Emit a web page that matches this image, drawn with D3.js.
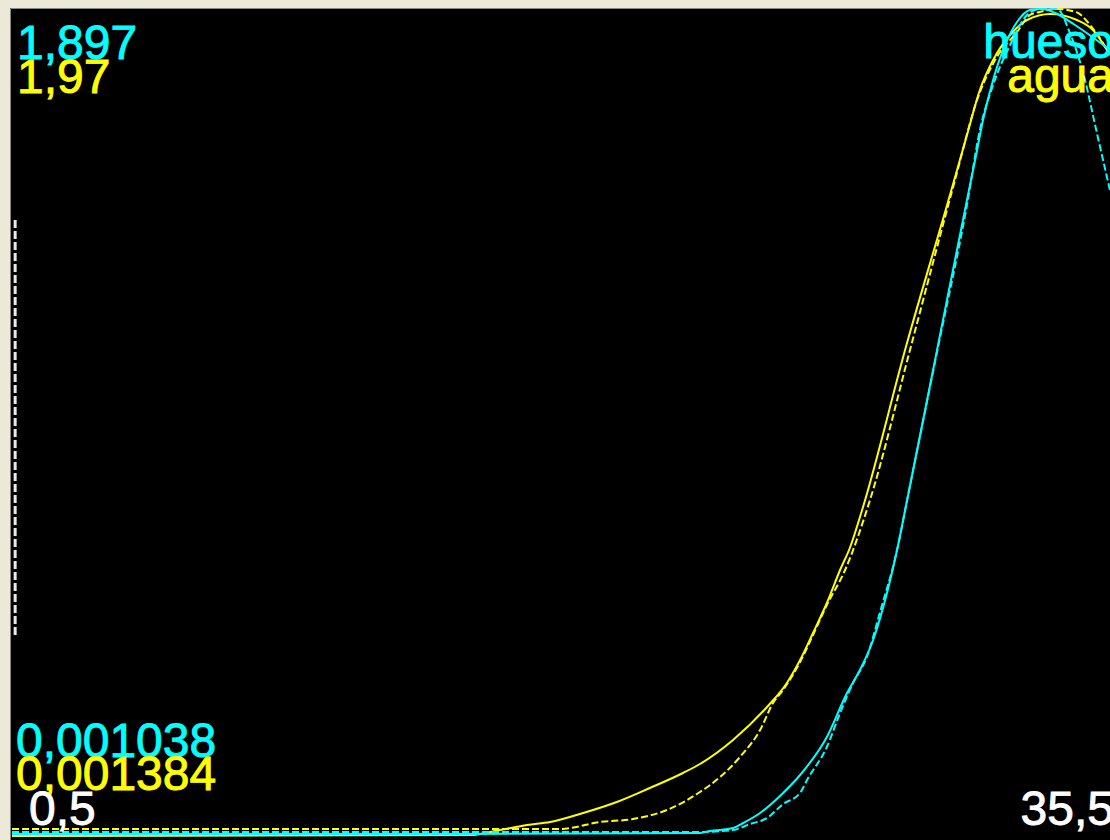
<!DOCTYPE html>
<html>
<head>
<meta charset="utf-8">
<script src="https://cdn.jsdelivr.net/npm/d3@7"></script>
<style>
  html, body { margin: 0; padding: 0; background: #ECE9D8; overflow: hidden; }
  svg { display: block; }
  text { font-family: "Liberation Sans", Arial, sans-serif; font-size: 48px; }
</style>
</head>
<body>
<script>
// Position along the profile (x) and the two pairs of curves.
const huesoX = [0.50, 12.82, 22.35, 22.67, 23.40, 23.72, 24.26, 24.99, 25.53, 26.38, 27.02, 27.43, 27.85, 28.29, 28.61, 28.93, 29.88, 30.83, 31.09, 31.34, 31.66, 32.04, 32.42, 32.83, 33.21, 33.63, 34.26, 35.37];
const huesoY = [0.001038, 0.001038, 0.00334, 0.00793, 0.0148, 0.0263, 0.0493, 0.0953, 0.1366, 0.2240, 0.3251, 0.3779, 0.4469, 0.5549, 0.6537, 0.7686, 1.1133, 1.4581, 1.5500, 1.6419, 1.7338, 1.8143, 1.8671, 1.8947, 1.897, 1.8878, 1.8602, 1.8028];

const huesoRefX = [0.50, 22.35, 23.40, 23.94, 24.48, 24.99, 25.53, 25.75, 26.38, 26.80, 27.21, 27.65, 28.07, 28.61, 28.93, 29.88, 30.83, 31.24, 31.66, 32.20, 32.74, 33.15, 33.69, 34.10, 34.58, 34.90, 35.37];
const huesoRefY = [0.00563, 0.00563, 0.0102, 0.0240, 0.0378, 0.0700, 0.0953, 0.1251, 0.2010, 0.2791, 0.3481, 0.4078, 0.5112, 0.6537, 0.7686, 1.1087, 1.4466, 1.6189, 1.7224, 1.8143, 1.8832, 1.897, 1.897, 1.8418, 1.7338, 1.6304, 1.4810];

const aguaX = [0.50, 15.05, 16.00, 16.86, 17.59, 18.64, 19.71, 20.76, 21.81, 22.35, 23.40, 24.48, 25.11, 25.53, 25.94, 26.38, 26.80, 27.11, 27.50, 28.89, 30.29, 30.83, 31.24, 31.66, 32.20, 32.74, 33.47, 34.32, 34.83, 35.37];
const aguaY = [0.001384, 0.003764, 0.015667, 0.027569, 0.034710, 0.056134, 0.082319, 0.115645, 0.151351, 0.172775, 0.229905, 0.308459, 0.365590, 0.420340, 0.484611, 0.556024, 0.634578, 0.686948, 0.777404, 1.165414, 1.527240, 1.670065, 1.777185, 1.848598, 1.908108, 1.943815, 1.958097, 1.943815, 1.920011, 1.860500];

const aguaRefX = [0.50, 17.90, 19.18, 20.22, 21.30, 22.35, 22.99, 23.62, 24.26, 24.67, 24.99, 25.53, 25.94, 26.38, 26.96, 27.75, 29.02, 30.45, 31.15, 31.78, 32.42, 32.83, 33.15, 33.69, 34.32, 34.74, 35.15, 35.37];
const aguaRefY = [0.018047, 0.018047, 0.034710, 0.041851, 0.063275, 0.106123, 0.141829, 0.189438, 0.253710, 0.317981, 0.348927, 0.415579, 0.479850, 0.551263, 0.634578, 0.801208, 1.158273, 1.562946, 1.753380, 1.855739, 1.915250, 1.955717, 1.963, 1.970, 1.962, 1.931913, 1.889065, 1.860500];

const xDomain = [0.5, 35.5];
const legendLabels = ["hueso", "agua"];
const seriesColors = ["#00FFFF", "#FFFF00"];

// Cursor marker drawn as a dotted vertical line (in hueso units).
const cursorX = 0.6;
const cursorSpan = [0.4515, 1.4121];

const W = 1110, H = 840;
const plot = { left: 12, top: 10, right: 1114, bottom: 840 };

d3.formatDefaultLocale({ decimal: ",", thousands: ".", grouping: [3], currency: ["", " €"] });
const fmt = d3.format("~g");

const svg = d3.select("body").append("svg").attr("width", W).attr("height", H);

// Window frame and black plotting surface
svg.append("rect").attr("width", W).attr("height", H).attr("fill", "#ECE9D8");
svg.append("rect").attr("x", 10).attr("y", 8).attr("width", W).attr("height", H).attr("fill", "#000");
svg.append("path").attr("d", `M10.5,${H} V8.5 H${W}`).attr("fill", "none").attr("stroke", "#8a887c").attr("stroke-width", 1);

const x = d3.scaleLinear().domain(xDomain).range([plot.left, plot.right]);

const huesoExt = d3.extent(huesoY.concat(huesoRefY));
const aguaExt = d3.extent(aguaY.concat(aguaRefY));
const yHueso = d3.scaleLinear().domain(huesoExt).range([834, 9]);
const yAgua = d3.scaleLinear().domain(aguaExt).range([836, 9]);

const zip = (xs, ys) => xs.map((v, i) => [v, ys[i]]);

function drawCurve(xs, ys, yScale, color, dashed) {
  const line = d3.line().x(d => x(d[0])).y(d => yScale(d[1])).curve(d3.curveMonotoneX);
  svg.append("path")
    .datum(zip(xs, ys))
    .attr("d", line)
    .attr("fill", "none")
    .attr("stroke", color)
    .attr("stroke-width", 2)
    .attr("stroke-dasharray", dashed ? "7,3" : null);
}

drawCurve(aguaX, aguaY, yAgua, seriesColors[1], false);
drawCurve(aguaRefX, aguaRefY, yAgua, seriesColors[1], true);
drawCurve(huesoX, huesoY, yHueso, seriesColors[0], false);
drawCurve(huesoRefX, huesoRefY, yHueso, seriesColors[0], true);

// Cursor
svg.append("line")
  .attr("x1", x(cursorX)).attr("x2", x(cursorX))
  .attr("y1", yHueso(cursorSpan[1])).attr("y2", yHueso(cursorSpan[0]))
  .attr("stroke", "#e8e8e8").attr("stroke-width", 3).attr("stroke-dasharray", "8,3");

// Range labels: maxima top-left, minima bottom-left
const labels = [
  { t: fmt(huesoExt[1]), x: 17, y: 59, c: seriesColors[0], a: "start" },
  { t: fmt(aguaExt[1]), x: 17, y: 93, c: seriesColors[1], a: "start" },
  { t: fmt(huesoExt[0]), x: 16, y: 757, c: seriesColors[0], a: "start" },
  { t: fmt(aguaExt[0]), x: 16, y: 790, c: seriesColors[1], a: "start" },
  { t: fmt(xDomain[0]), x: 29, y: 825, c: "#FFFFFF", a: "start" },
  { t: fmt(xDomain[1]), x: 1114, y: 825, c: "#FFFFFF", a: "end" },
  { t: legendLabels[0], x: 1114, y: 58, c: seriesColors[0], a: "end" },
  { t: legendLabels[1], x: 1114, y: 92, c: seriesColors[1], a: "end" }
];
svg.selectAll("text.lbl").data(labels).enter().append("text")
  .attr("class", "lbl")
  .attr("x", d => d.x).attr("y", d => d.y)
  .attr("fill", d => d.c)
  .attr("stroke", d => d.c)
  .attr("stroke-width", 0.9)
  .attr("text-anchor", d => d.a)
  .text(d => d.t);
</script>
</body>
</html>
